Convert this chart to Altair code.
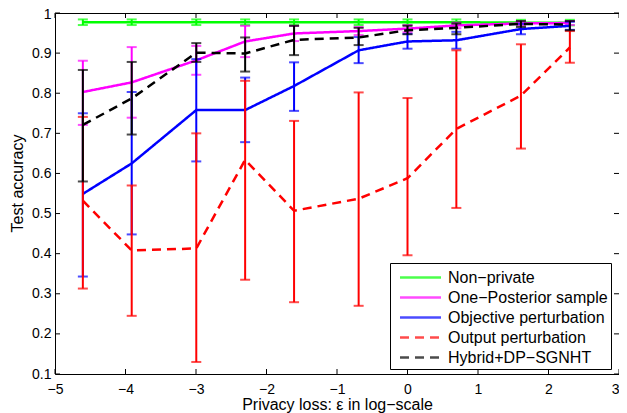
import altair as alt
import pandas as pd

# x positions: log(epsilon)
x_vals = [-4.605, -3.912, -2.996, -2.303, -1.609, -0.693, 0.0, 0.693, 1.609, 2.303]

series_names = ["Non\u2212private", "One\u2212Posterior sample", "Objective perturbation",
                "Output perturbation", "Hybrid+DP\u2212SGNHT"]
series_colors = ["#00ff00", "#ff00ff", "#0000ff", "#ff0000", "#000000"]
series_dash = [[1, 0], [1, 0], [1, 0], [9, 6], [9, 6]]

nonpriv_mean = [0.977, 0.977, 0.977, 0.977, 0.977, 0.977, 0.977, 0.977, 0.976, 0.976]
nonpriv_lo   = [0.970, 0.970, 0.970, 0.970, 0.970, 0.970, 0.970, 0.970, 0.969, 0.969]
nonpriv_hi   = [0.984, 0.984, 0.984, 0.984, 0.984, 0.984, 0.984, 0.984, 0.983, 0.983]

onepost_mean = [0.803, 0.827, 0.882, 0.929, 0.949, 0.955, 0.961, 0.969, 0.974, 0.975]
onepost_lo   = [0.721, 0.739, 0.846, 0.890, 0.930, 0.945, 0.952, 0.962, 0.969, 0.970]
onepost_hi   = [0.881, 0.915, 0.918, 0.968, 0.968, 0.965, 0.970, 0.976, 0.979, 0.980]

objpert_mean = [0.549, 0.625, 0.758, 0.758, 0.818, 0.907, 0.929, 0.932, 0.960, 0.968]
objpert_lo   = [0.343, 0.448, 0.630, 0.678, 0.756, 0.875, 0.911, 0.911, 0.947, 0.958]
objpert_hi   = [0.750, 0.803, 0.885, 0.839, 0.877, 0.940, 0.948, 0.953, 0.973, 0.978]

outpert_mean = [0.532, 0.408, 0.413, 0.634, 0.507, 0.537, 0.588, 0.711, 0.794, 0.914]
outpert_lo   = [0.313, 0.245, 0.130, 0.335, 0.279, 0.270, 0.396, 0.514, 0.662, 0.876]
outpert_hi   = [0.741, 0.570, 0.700, 0.831, 0.731, 0.802, 0.788, 0.907, 0.922, 0.955]

hybrid_mean = [0.721, 0.787, 0.901, 0.899, 0.933, 0.939, 0.957, 0.963, 0.973, 0.971]
hybrid_lo   = [0.580, 0.697, 0.878, 0.854, 0.895, 0.920, 0.947, 0.947, 0.965, 0.957]
hybrid_hi   = [0.858, 0.878, 0.925, 0.939, 0.968, 0.963, 0.968, 0.974, 0.980, 0.980]

x_ticks = [-5, -4, -3, -2, -1, 0, 1, 2, 3]
y_ticks = [0.1, 0.2, 0.3, 0.4, 0.5, 0.6, 0.7, 0.8, 0.9, 1.0]

all_series = [
    (nonpriv_mean, nonpriv_lo, nonpriv_hi),
    (onepost_mean, onepost_lo, onepost_hi),
    (objpert_mean, objpert_lo, objpert_hi),
    (outpert_mean, outpert_lo, outpert_hi),
    (hybrid_mean, hybrid_lo, hybrid_hi),
]

rows = []
for name, (m, lo, hi) in zip(series_names, all_series):
    for xv, a, b, c in zip(x_vals, m, lo, hi):
        rows.append({"series": name, "x": xv, "mean": a, "lo": b, "hi": c})
df = pd.DataFrame(rows)

W, H = 564, 361
FONT = "Liberation Sans"

xscale = alt.Scale(domain=[-5, 3], nice=False, zero=False)
yscale = alt.Scale(domain=[0.1, 1.0], nice=False, zero=False)
cscale = alt.Scale(domain=series_names, range=series_colors)
dscale = alt.Scale(domain=series_names, range=series_dash)

xaxis = alt.Axis(values=x_ticks, ticks=False, domain=False, grid=False, labelFlush=False,
                 labelExpr="format(datum.value, '~g')",
                 labelAlign={"condition": {"test": "datum.value == 3", "value": "right"},
                             "value": "center"},
                 labelFontSize=14, labelPadding=8, title="Privacy loss: \u03b5 in log\u2212scale",
                 titleFontSize=16, titleFontWeight="normal",
                 titleY=35, titleBaseline="alphabetic",
                 labelFont=FONT, titleFont=FONT, labelColor="black", titleColor="black")
yaxis = alt.Axis(values=y_ticks, ticks=False, domain=False, grid=False, labelFlush=False,
                 labelFontSize=14, labelPadding=4, title="Test accuracy",
                 labelExpr="format(datum.value, '~g')",
                 labelOffset={"condition": {"test": "datum.value == 1", "value": 1},
                              "value": 0},
                 titleFontSize=16, titleFontWeight="normal", titlePadding=6, titleY=170,
                 labelFont=FONT, titleFont=FONT, labelColor="black", titleColor="black")

layers = []
for name in series_names:
    base = alt.Chart(df).transform_filter(alt.datum.series == name)
    color = alt.Color("series:N", scale=cscale, title=None)
    bars = base.mark_rule(strokeWidth=2).encode(
        x=alt.X("x:Q", scale=xscale, axis=xaxis),
        y=alt.Y("lo:Q", scale=yscale, axis=yaxis),
        y2="hi:Q",
        color=color,
    )
    cap_lo = base.mark_tick(orient="horizontal", size=10, thickness=2).encode(
        x=alt.X("x:Q", scale=xscale), y=alt.Y("lo:Q", scale=yscale), color=color)
    cap_hi = base.mark_tick(orient="horizontal", size=10, thickness=2).encode(
        x=alt.X("x:Q", scale=xscale), y=alt.Y("hi:Q", scale=yscale), color=color)
    line = base.mark_line(strokeWidth=2.5).encode(
        x=alt.X("x:Q", scale=xscale),
        y=alt.Y("mean:Q", scale=yscale),
        color=color,
        strokeDash=alt.StrokeDash("series:N", scale=dscale, title=None),
    )
    layers += [bars, cap_lo, cap_hi, line]

# inward tick marks on all four sides
xt = pd.DataFrame({"t": x_ticks})
yt = pd.DataFrame({"t": y_ticks})
tk_bottom = alt.Chart(xt).mark_rule(color="black", strokeWidth=1).encode(
    x=alt.X("t:Q", scale=xscale), y=alt.value(H), y2=alt.value(H - 5))
tk_top = alt.Chart(xt).mark_rule(color="black", strokeWidth=1).encode(
    x=alt.X("t:Q", scale=xscale), y=alt.value(0), y2=alt.value(5))
tk_left = alt.Chart(yt).mark_rule(color="black", strokeWidth=1).encode(
    y=alt.Y("t:Q", scale=yscale), x=alt.value(0), x2=alt.value(5))
tk_right = alt.Chart(yt).mark_rule(color="black", strokeWidth=1).encode(
    y=alt.Y("t:Q", scale=yscale), x=alt.value(W - 5), x2=alt.value(W))

chart = alt.layer(tk_bottom, tk_top, tk_left, tk_right, *layers).properties(
    width=W, height=H,
    autosize=alt.AutoSizeParams(type="none"),
    padding={"left": 47, "top": 5, "right": 0, "bottom": 39},
).configure_view(
    stroke="black", strokeWidth=1
).configure_legend(
    orient="none", legendX=335, legendY=250,
    strokeColor="black", fillColor="white", padding=3, cornerRadius=0,
    symbolType="M-2,0H2", symbolSize=420, symbolStrokeWidth=2.5,
    labelFont=FONT, labelFontSize=16, labelColor="black", labelOffset=16,
    rowPadding=0, symbolOffset=16,
)

chart.save("out.html", embed_options={"renderer": "svg", "actions": False})
